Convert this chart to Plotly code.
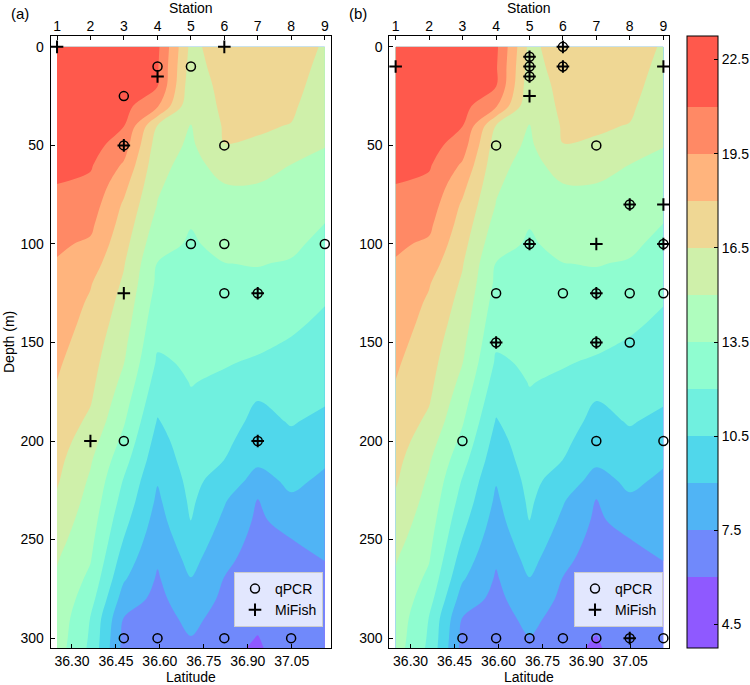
import math
import plotly.graph_objects as go

# ---------------- data ----------------
stations = [1, 2, 3, 4, 5, 6, 7, 8, 9]
station_lat = [36.249, 36.363, 36.477, 36.592, 36.706, 36.820, 36.934, 37.048, 37.163]
depth = [0, 10, 20, 30, 40, 50, 60, 70, 80, 90, 100, 110, 120, 130, 140, 150,
         160, 170, 180, 190, 200, 210, 220, 230, 240, 250, 260, 270, 280, 290, 300, 305]

# temperature (deg C) at each station, by depth
temp_st1 = [22.0, 22.0, 21.9, 21.8, 21.7, 21.6, 21.5, 20.98, 20.6, 20.1, 19.7, 19.4, 19.15, 18.9, 18.7, 18.45,
            18.2, 17.98, 17.7, 17.45, 17.2, 16.9, 16.65, 16.3, 15.9, 15.5, 15.1, 14.85, 14.65, 14.5, 14.3, 14.2]
temp_st2 = [22.0, 22.0, 21.9, 21.8, 21.7, 21.6, 21.15, 20.7, 20.25, 19.8, 19.3, 18.7, 18.1, 17.8, 17.55, 17.3,
            17.05, 16.85, 16.6, 16.2, 15.65, 15.15, 14.8, 14.5, 14.2, 13.9, 13.6, 13.15, 12.6, 11.95, 11.8, 11.7]
temp_st3 = [22.0, 21.9, 21.7, 21.5, 21.05, 20.2, 19.3, 18.45, 17.8, 17.4, 17.0, 16.6, 16.3, 16.0, 15.7, 15.35,
            15.05, 14.6, 14.1, 13.65, 13.1, 12.5, 11.9, 11.45, 10.95, 10.45, 9.8, 9.15, 8.3, 7.45, 7.1, 7.0]
temp_st4 = [21.3, 21.15, 21.02, 19.65, 16.45, 15.75, 15.45, 15.2, 14.95, 14.45, 13.95, 13.45, 13.2, 12.85, 12.5, 12.2,
            11.8, 11.35, 10.9, 10.4, 9.95, 9.55, 9.1, 8.75, 8.4, 8.0, 7.65, 7.35, 7.1, 6.85, 6.6, 6.5]
temp_st5 = [16.1, 15.85, 15.55, 15.3, 14.98, 14.75, 14.45, 14.15, 13.85, 13.55, 13.35, 13.15, 12.95, 12.75, 12.6, 12.4,
            12.2, 12.05, 11.85, 11.6, 11.4, 11.2, 10.95, 10.75, 10.55, 10.05, 9.5, 8.95, 8.45, 7.9, 7.45, 7.3]
temp_st6 = [17.3, 17.2, 17.0, 16.85, 16.65, 16.48, 15.65, 14.95, 14.55, 14.2, 13.85, 13.48, 13.2, 12.95, 12.65, 12.4,
            12.1, 11.8, 11.5, 11.15, 10.85, 10.48, 9.8, 9.15, 8.7, 8.25, 7.85, 7.45, 7.2, 6.9, 6.5, 6.3]
temp_st7 = [17.3, 17.15, 17.0, 16.8, 16.65, 16.35, 15.6, 14.95, 14.6, 14.25, 13.9, 13.55, 13.25, 12.9, 12.6, 12.25,
            11.85, 11.2, 10.48, 10.1, 9.65, 9.25, 8.5, 7.45, 7.25, 7.05, 6.85, 6.7, 6.5, 6.3, 5.95, 5.85]
temp_st8 = [17.4, 17.2, 17.0, 16.75, 16.45, 15.7, 14.98, 14.7, 14.4, 14.05, 13.75, 13.4, 13.0, 12.65, 12.25, 11.9,
            11.55, 11.25, 10.9, 10.6, 10.2, 9.75, 9.3, 8.8, 8.1, 7.48, 7.35, 7.2, 7.05, 6.95, 6.8, 6.7]
temp_st9 = [16.3, 16.05, 15.8, 15.55, 15.3, 15.05, 14.65, 14.25, 13.9, 13.48, 13.15, 12.8, 12.45, 12.05, 11.75, 11.5,
            11.2, 10.9, 10.6, 10.2, 9.65, 9.15, 8.75, 8.45, 8.1, 7.8, 7.52, 7.3, 7.2, 7.05, 6.9, 6.85]

lat_ticks = [36.30, 36.45, 36.60, 36.75, 36.90, 37.05]
depth_ticks = [0, 50, 100, 150, 200, 250, 300]
cbar_ticks = [4.5, 7.5, 10.5, 13.5, 16.5, 19.5, 22.5]

# sampling points, panel (a)
qpcr_a_station = [4, 5, 3, 3, 6, 5, 6, 9, 6, 7, 3, 7, 3, 4, 6, 8]
qpcr_a_depth = [10, 10, 25, 50, 50, 100, 100, 100, 125, 125, 200, 200, 300, 300, 300, 300]
mifish_a_station = [1, 6, 4, 3, 3, 7, 2, 7]
mifish_a_depth = [0, 0, 15, 50, 125, 125, 200, 200]

# sampling points, panel (b)
qpcr_b_station = [6, 5, 5, 5, 6, 4, 7, 8, 5, 9, 4, 6, 7, 8, 9, 4, 7, 8, 3, 7, 9, 3, 4, 5, 6, 7, 8, 9]
qpcr_b_depth = [0, 5, 10, 15, 10, 50, 50, 80, 100, 100, 125, 125, 125, 125, 125, 150, 150, 150,
                200, 200, 200, 300, 300, 300, 300, 300, 300, 300]
mifish_b_station = [6, 5, 5, 5, 6, 1, 9, 5, 8, 9, 5, 7, 9, 7, 4, 7, 8]
mifish_b_depth = [0, 5, 10, 15, 10, 10, 10, 25, 80, 80, 100, 100, 100, 125, 150, 150, 300]

# ---------------- styling ----------------
temp_cols = [temp_st1, temp_st2, temp_st3, temp_st4, temp_st5, temp_st6, temp_st7, temp_st8, temp_st9]
z = [[col[i] for col in temp_cols] for i in range(len(depth))]


def rainbow(x, alpha=0.75):
    r = min(1.0, abs(2 * x - 0.5))
    g = math.sin(math.pi * x)
    b = math.cos(math.pi * x / 2)
    r, g, b = [alpha * c + (1 - alpha) for c in (r, g, b)]
    return "rgb(%d,%d,%d)" % (round(r * 255), round(g * 255), round(b * 255))


band_colors = [rainbow((i + 0.5) / 12) for i in range(12)]
full = [band_colors[0]] + band_colors + [band_colors[-1]]
n = len(full) - 1
colorscale = []
for j, c in enumerate(full):
    colorscale.append([max(0.0, (j - 0.5) / n), c])
    colorscale.append([min(1.0, (j + 0.5) / n), c])

W, H = 750, 685
FONT = "Liberation Sans, Arial, sans-serif"
FS = 14
X_RANGE = [36.2274, 37.1831]
Y_RANGE = [305, -5.5]
dom_a = [50.7 / W, 330.7 / W]
dom_b = [389.3 / W, 669.3 / W]
dom_y = [1 - 648 / H, 1 - 36 / H]


def lats(st):
    return [station_lat[s - 1] for s in st]


fig = go.Figure()
contour_common = dict(
    x=station_lat, y=depth, z=z, autocontour=False,
    contours=dict(start=4.5, end=22.5, size=1.5, coloring="fill", showlines=False),
    line=dict(width=0), colorscale=colorscale, hoverinfo="skip",
)
fig.add_trace(go.Contour(
    **contour_common, xaxis="x", yaxis="y", showscale=True,
    colorbar=dict(
        x=687 / W, xanchor="left", y=1 - 648 / H, yanchor="bottom",
        len=612 / H, lenmode="fraction", thickness=31, thicknessmode="pixels",
        xpad=0, ypad=0, outlinewidth=1, outlinecolor="black",
        tickvals=cbar_ticks, ticktext=["%.1f" % v for v in cbar_ticks],
        ticks="inside", ticklen=4, tickcolor="black",
        tickfont=dict(size=FS, color="black", family=FONT),
    ),
))
fig.add_trace(go.Contour(**contour_common, xaxis="x2", yaxis="y2", showscale=False))

circ = dict(symbol="circle-open", size=9, color="black", line=dict(width=1.5, color="black"))
plus = dict(symbol="cross-thin", size=9, color="black", line=dict(width=2, color="black"))

fig.add_trace(go.Scatter(x=lats(qpcr_a_station), y=qpcr_a_depth, mode="markers", marker=circ,
                         name="qPCR", xaxis="x3", yaxis="y", legend="legend", cliponaxis=False))
fig.add_trace(go.Scatter(x=lats(mifish_a_station), y=mifish_a_depth, mode="markers", marker=plus,
                         name="MiFish", xaxis="x3", yaxis="y", legend="legend", cliponaxis=False))
fig.add_trace(go.Scatter(x=lats(qpcr_b_station), y=qpcr_b_depth, mode="markers", marker=circ,
                         name="qPCR", xaxis="x4", yaxis="y2", legend="legend2", cliponaxis=False))
fig.add_trace(go.Scatter(x=lats(mifish_b_station), y=mifish_b_depth, mode="markers", marker=plus,
                         name="MiFish", xaxis="x4", yaxis="y2", legend="legend2", cliponaxis=False))

tickfont = dict(size=FS, color="black", family=FONT)
bottom_x = dict(range=X_RANGE, showline=True, linecolor="black", linewidth=1, mirror=True,
                ticks="inside", ticklen=4, tickcolor="black", tickvals=lat_ticks,
                ticktext=["%.2f" % v for v in lat_ticks], showgrid=False, zeroline=False,
                tickfont=tickfont, ticklabelstandoff=0)
top_x = dict(range=X_RANGE, side="top", tickvals=station_lat, ticktext=[str(s) for s in stations],
             ticks="inside", ticklen=4, tickcolor="black", showline=False, showgrid=False,
             zeroline=False, tickfont=tickfont, ticklabelstandoff=1)
yax = dict(range=Y_RANGE, domain=dom_y, showline=True, linecolor="black", linewidth=1, mirror=True,
           ticks="inside", ticklen=4, tickcolor="black", tickvals=depth_ticks, showgrid=False,
           zeroline=False, tickfont=tickfont, ticklabelstandoff=3)

legend_common = dict(yanchor="bottom", y=1 - 627 / H, xanchor="right",
                     bgcolor="rgba(255,255,255,0.8)", bordercolor="#cccccc", borderwidth=1,
                     font=dict(size=FS, color="black", family=FONT), tracegroupgap=0)

annotations = [
    dict(text="Station", x=(dom_a[0] + dom_a[1]) / 2, y=1 - 8 / H),
    dict(text="Station", x=(dom_b[0] + dom_b[1]) / 2, y=1 - 8 / H),
    dict(text="Latitude", x=(dom_a[0] + dom_a[1]) / 2, y=1 - 677 / H),
    dict(text="Latitude", x=(dom_b[0] + dom_b[1]) / 2, y=1 - 677 / H),
    dict(text="Depth (m)", x=9 / W, y=1 - 342 / H, textangle=-90),
    dict(text="(a)", x=20 / W, y=1 - 13 / H, size=15),
    dict(text="(b)", x=358 / W, y=1 - 13 / H, size=15),
]
ann = []
for a in annotations:
    size = a.pop("size", FS)
    ann.append(dict(**a, xref="paper", yref="paper", xanchor="center", yanchor="middle",
                    showarrow=False, font=dict(size=size, color="black", family=FONT)))

fig.update_layout(
    width=W, height=H,
    margin=dict(l=0, r=0, t=0, b=0, autoexpand=False),
    paper_bgcolor="white", plot_bgcolor="white",
    font=dict(family=FONT, size=FS, color="black"),
    xaxis=dict(**bottom_x, domain=dom_a, anchor="y"),
    xaxis2=dict(**bottom_x, domain=dom_b, anchor="y2"),
    xaxis3=dict(**top_x, overlaying="x", anchor="y"),
    xaxis4=dict(**top_x, overlaying="x2", anchor="y2"),
    yaxis=dict(**yax, anchor="x"),
    yaxis2=dict(**yax, anchor="x2"),
    legend=dict(**legend_common, x=323 / W),
    legend2=dict(**legend_common, x=663 / W),
    annotations=ann,
    showlegend=True,
)

fig.write_html(
    "out.html",
    config={"displayModeBar": False},
    post_script="document.body.style.margin='0';document.body.style.overflow='hidden';",
)
